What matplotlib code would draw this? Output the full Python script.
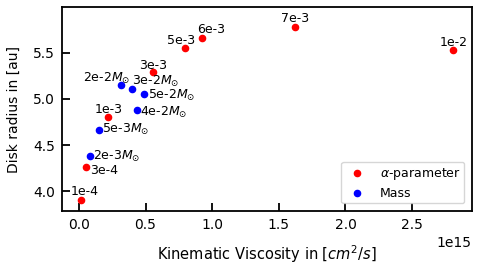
import numpy as np
import matplotlib
matplotlib.use("Agg")
import matplotlib.pyplot as plt

# alpha-parameter runs
alpha_labels = ['1e-4', '3e-4', '1e-3', '3e-3', '5e-3', '6e-3', '7e-3', '1e-2']
alpha_visc = [0.015e15, 0.05e15, 0.22e15, 0.557e15, 0.797e15, 0.92e15, 1.62e15, 2.808e15]
alpha_radius = [3.91, 4.26, 4.80, 5.29, 5.555, 5.66, 5.78, 5.527]

# disk mass runs
mass_labels = ['2e-2', '3e-2', '5e-2', '4e-2', '5e-3', '2e-3']
mass_visc = [0.315e15, 0.395e15, 0.49e15, 0.435e15, 0.148e15, 0.0825e15]
mass_radius = [5.145, 5.106, 5.05, 4.88, 4.666, 4.385]

# label offsets in pixels (dx, dy)
alpha_off = [(4, 8), (18, -3), (0, 8), (0, 7), (-4, 7), (10, 8), (0, 8), (0, 8)]
mass_off = [(-14, 7), (24, 8), (27, -1), (27, -2), (27, 0), (27, -1)]

fig = plt.figure(figsize=(4.8, 2.69), dpi=100)
ax = fig.add_axes([0.129, 0.216, 0.854, 0.757])

ax.scatter(alpha_visc, alpha_radius, s=20, color='red', label=r'$\alpha$-parameter', zorder=3)
ax.scatter(mass_visc, mass_radius, s=20, color='blue', label='Mass', zorder=3)

for lab, x, y, off in zip(alpha_labels, alpha_visc, alpha_radius, alpha_off):
    ax.annotate(lab, (x, y), xytext=off, textcoords='offset pixels',
                ha='center', va='center', fontsize=9)
for lab, x, y, off in zip(mass_labels, mass_visc, mass_radius, mass_off):
    ax.annotate(lab + r'$M_{\odot}$', (x, y), xytext=off, textcoords='offset pixels',
                ha='center', va='center', fontsize=9)

ax.set_xlim(-0.1275e15, 2.948e15)
ax.set_ylim(3.79, 5.99)
ax.set_xticks([0, 0.5e15, 1.0e15, 1.5e15, 2.0e15, 2.5e15])
ax.set_yticks([4.0, 4.5, 5.0, 5.5])

for sp in ax.spines.values():
    sp.set_linewidth(1.3)
ax.tick_params(direction='in', length=5.5, width=1.3, labelsize=10, pad=5)
ax.xaxis.get_offset_text().set_fontsize(10)

ax.set_xlabel(r'Kinematic Viscosity in [$cm^2/s$]', fontsize=10.5, labelpad=8)
ax.set_ylabel('Disk radius in [au]', fontsize=10, labelpad=9)
ax.legend(loc='lower right', fontsize=9, borderaxespad=0.6,
          borderpad=0.3, labelspacing=0.4)

fig.savefig('out.png', dpi=100)
